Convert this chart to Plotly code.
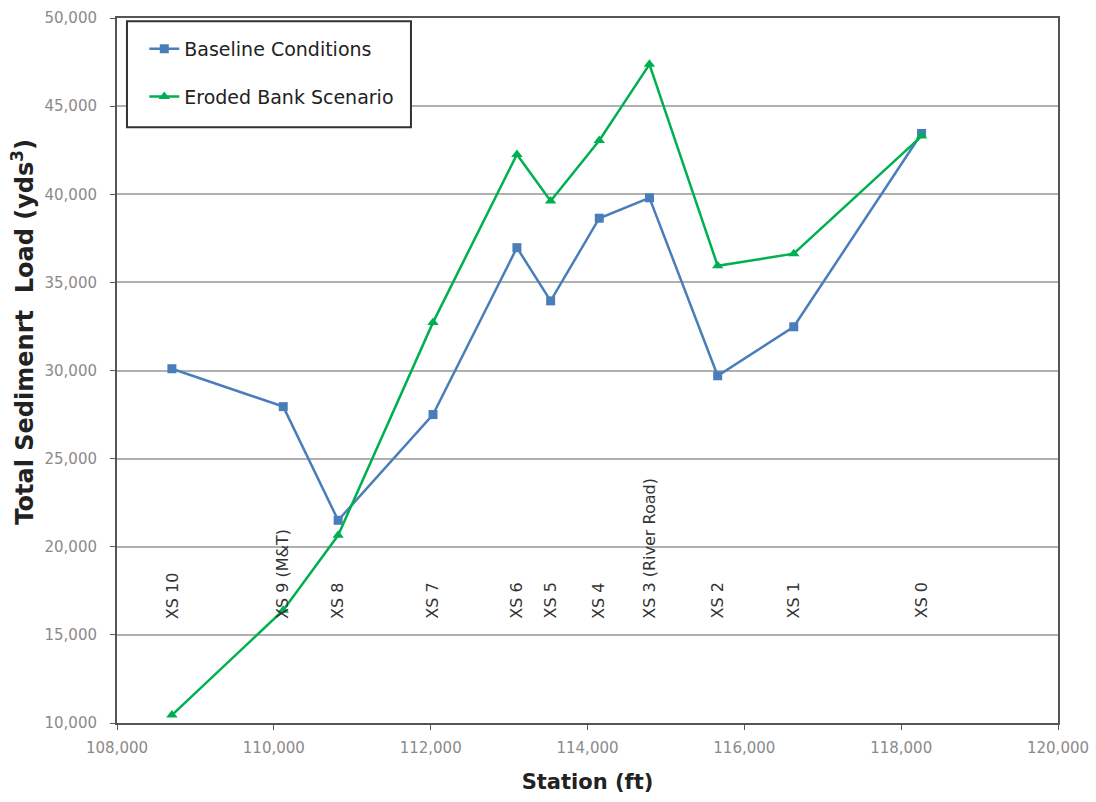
import plotly.graph_objects as go

# Data
stations = [108700, 110120, 110820, 112030, 113100, 113530, 114150, 114790, 115660, 116630, 118260]
baseline = [30100, 27950, 21500, 27500, 36970, 33950, 38640, 39800, 29700, 32480, 43450]
eroded = [10450, 16400, 20650, 32730, 42260, 39620, 43050, 47370, 35940, 36630, 43300]
xs_labels = ["XS 10", "XS 9 (M&T)", "XS 8", "XS 7", "XS 6", "XS 5", "XS 4",
             "XS 3 (River Road)", "XS 2", "XS 1", "XS 0"]
label_y = 15800
x_ticks = [108000, 110000, 112000, 114000, 116000, 118000, 120000]
y_ticks = [10000, 15000, 20000, 25000, 30000, 35000, 40000, 45000, 50000]

BLUE = "#4a7ebb"
GREEN = "#00b050"
FONT = "'DejaVu Sans', sans-serif"

fig = go.Figure()
fig.add_trace(go.Scatter(
    x=stations, y=baseline, mode="lines+markers", name="Baseline Conditions",
    legendgroup="a",
    line=dict(color=BLUE, width=2.5),
    marker=dict(symbol="square", size=9, color=BLUE),
))
fig.add_trace(go.Scatter(
    x=stations, y=eroded, mode="lines+markers", name="Eroded Bank Scenario",
    legendgroup="b",
    line=dict(color=GREEN, width=2.5),
    marker=dict(symbol="triangle-up", size=10, color=GREEN),
))

for s, lab in zip(stations, xs_labels):
    fig.add_annotation(
        x=s, y=label_y, text=lab, textangle=-90, showarrow=False,
        xanchor="center", yanchor="bottom",
        font=dict(family=FONT, size=16, color="#333333"),
    )

# y axis title placed as a rotated annotation (the reference centres it above the plot middle)
fig.add_annotation(
    xref="paper", yref="paper", x=-0.1, y=0.555, xanchor="center", yanchor="middle",
    text="<b>Total Sedimenrt  Load (yds<sup>3</sup>)</b>", textangle=-90, showarrow=False,
    font=dict(family=FONT, size=24, color="#222222"),
)

# legend frame (drawn as a box behind the legend entries)
fig.add_shape(
    type="rect", xref="paper", yref="paper",
    x0=0.0106, x1=0.3124, y0=0.845, y1=0.9955,
    line=dict(color="#333333", width=2), fillcolor="white", layer="above",
)

fig.update_layout(
    width=1096, height=802,
    margin=dict(l=117, r=38, t=18, b=79),
    paper_bgcolor="white", plot_bgcolor="white",
    font=dict(family=FONT, color="#333333"),
    showlegend=True,
    legend=dict(
        x=0.029, y=0.983, xanchor="left", yanchor="top",
        bgcolor="rgba(0,0,0,0)", borderwidth=0,
        font=dict(family=FONT, size=19, color="#222222"),
        tracegroupgap=20,
    ),
    xaxis=dict(
        range=[108000, 120000], tickvals=x_ticks, tickformat=",",
        showgrid=False, zeroline=False, automargin=False,
        showline=True, linecolor="#555555", linewidth=2, mirror=True,
        ticks="outside", ticklen=5, tickcolor="#555555", ticklabelstandoff=5,
        tickfont=dict(family=FONT, size=15, color="#8a8a8a"),
        title=dict(text="<b>Station (ft)</b>", font=dict(family=FONT, size=21, color="#222222"), standoff=18),
    ),
    yaxis=dict(
        range=[10000, 50000], tickvals=y_ticks, tickformat=",",
        showgrid=True, gridcolor="#b0b0b0", gridwidth=2, zeroline=False, automargin=False,
        showline=True, linecolor="#555555", linewidth=2, mirror=True,
        ticks="outside", ticklen=5, tickcolor="#555555", ticklabelstandoff=10,
        tickfont=dict(family=FONT, size=15, color="#8a8a8a"),
    ),
)

fig.write_html("out.html", config={"displayModeBar": False},
               post_script="document.body.style.margin='0';")
